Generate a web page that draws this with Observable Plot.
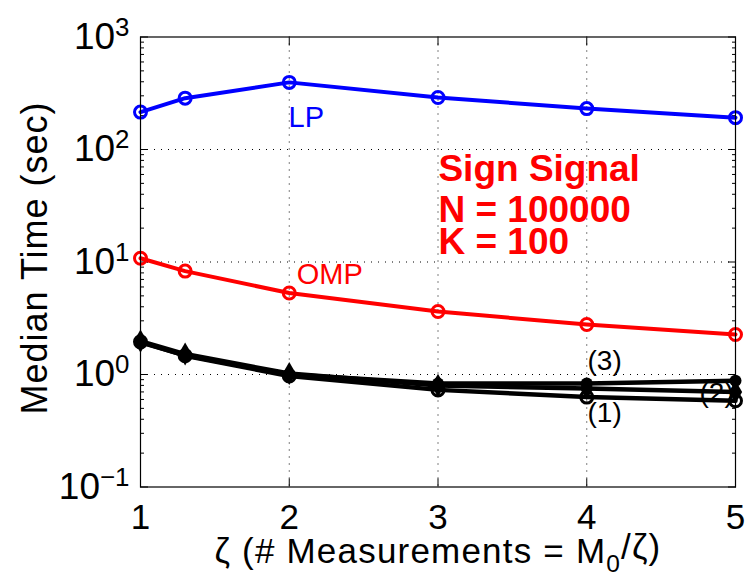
<!DOCTYPE html>
<html><head><meta charset="utf-8">
<script src="https://cdn.jsdelivr.net/npm/d3@7"></script>
<script src="https://cdn.jsdelivr.net/npm/@observablehq/plot@0.6"></script>
<style>body{margin:0;background:#fff} svg{display:block}</style>
</head><body><div id="chart"></div>
<script>
const zeta = [1, 1.3, 2, 3, 4, 5];
const lpTime = [215, 286, 395, 290, 231, 192];
const ompTime = [10.8, 8.3, 5.3, 3.63, 2.78, 2.27];
const bp1Time = [1.95, 1.47, 0.97, 0.73, 0.63, 0.585];
const bp2Time = [1.98, 1.52, 1.02, 0.80, 0.75, 0.70];
const bp3Time = [1.93, 1.48, 1.00, 0.83, 0.83, 0.88];
const xTicks = [1, 2, 3, 4, 5];
const yTicks = [0.1, 1, 10, 100, 1000];
const infoLines = ["Sign Signal", "N = 100000", "K = 100"];
const infoY = [52.9, 22.9, 11.9];
const curveLabels = ["LP", "OMP"];
const curveColors = ["#0000ff", "#ff0000"];
const curveLabelX = [1.995, 2.05];
const curveLabelY = [160, 6.44];
const bpLabels = ["(3)", "(1)", "(2)"];
const bpLabelX = [4.005, 4.005, 4.758];
const bpLabelY = [1.107, 0.382, 0.564];

const rows = vals => zeta.map((z, i) => ({z, t: vals[i]}));
const lp = rows(lpTime), omp = rows(ompTime), bp1 = rows(bp1Time), bp2 = rows(bp2Time), bp3 = rows(bp3Time);
const yMinor = [];
for (const d of [0.1, 1, 10, 100]) for (let k = 2; k <= 9; k++) yMinor.push(d * k);
const font = "'Liberation Sans', Arial, Helvetica, sans-serif";
const blank = () => "";

const plot = Plot.plot({
  width: 747, height: 585,
  marginLeft: 140, marginRight: 12, marginTop: 36.5, marginBottom: 98.5,
  style: {fontFamily: font, background: "#fff", color: "#000"},
  x: {domain: [1, 5], label: null},
  y: {type: "log", domain: [0.1, 1000], label: null},
  marks: [
    Plot.ruleX([2, 3, 4], {stroke: "#000", strokeWidth: 1, strokeDasharray: "1,6"}),
    Plot.ruleY([1, 10, 100], {stroke: "#000", strokeWidth: 1, strokeDasharray: "1,6"}),
    Plot.axisY(yTicks, {anchor: "left", tickSize: -8, tickFormat: blank}),
    Plot.axisY(yMinor, {anchor: "left", tickSize: -4, tickFormat: blank}),
    Plot.axisY(yTicks, {anchor: "right", tickSize: -8, tickFormat: blank}),
    Plot.axisY(yMinor, {anchor: "right", tickSize: -4, tickFormat: blank}),
    Plot.axisX(xTicks, {anchor: "bottom", tickSize: -8, tickFormat: blank}),
    Plot.axisX(xTicks, {anchor: "top", tickSize: -8, tickFormat: blank}),
    Plot.axisY(yTicks, {anchor: "left", tickSize: 0, tickPadding: 11, fontSize: 37,
      tickFormat: d => "10|" + String(Math.round(Math.log10(d))).replace("-", "\u2212")}),
    Plot.axisX(xTicks, {anchor: "bottom", tickSize: 0, tickPadding: 17, fontSize: 35, tickFormat: d => String(d)}),
    Plot.line(lp, {x: "z", y: "t", stroke: "#0000ff", strokeWidth: 4}),
    Plot.dot(lp, {x: "z", y: "t", r: 6, stroke: "#0000ff", strokeWidth: 3}),
    Plot.line(omp, {x: "z", y: "t", stroke: "#ff0000", strokeWidth: 4}),
    Plot.dot(omp, {x: "z", y: "t", r: 6, stroke: "#ff0000", strokeWidth: 3}),
    Plot.line(bp1, {x: "z", y: "t", stroke: "#000", strokeWidth: 4.5}),
    Plot.line(bp2, {x: "z", y: "t", stroke: "#000", strokeWidth: 4.5}),
    Plot.line(bp3, {x: "z", y: "t", stroke: "#000", strokeWidth: 4.5}),
    Plot.dot(bp1, {x: "z", y: "t", r: 6, stroke: "#000", strokeWidth: 3}),
    Plot.dot(bp2, {x: "z", y: "t", r: 7, symbol: "diamond", fill: "#000"}),
    Plot.dot(bp3, {x: "z", y: "t", r: 6, fill: "#000"}),
    Plot.text(curveLabels, {x: (d, i) => curveLabelX[i], y: (d, i) => curveLabelY[i], text: d => d,
      fill: (d, i) => curveColors[i], textAnchor: "start", lineAnchor: "bottom", fontSize: 29}),
    Plot.text(infoLines, {x: () => 3.003, y: (d, i) => infoY[i], text: d => d, fill: "#ff0000",
      fontWeight: "bold", textAnchor: "start", lineAnchor: "bottom", fontSize: 37}),
    Plot.text(bpLabels, {x: (d, i) => bpLabelX[i], y: (d, i) => bpLabelY[i], text: d => d, fill: "#000",
      textAnchor: "start", lineAnchor: "bottom", fontSize: 28}),
    Plot.text(["Median Time (sec)"], {frameAnchor: "left", dx: -105, dy: -4, rotate: -90, textAnchor: "middle",
      lineAnchor: "middle", fontSize: 36, fill: "#000"}),
    Plot.text(["\u03B6 (# Measurements = M_0/\u03B6)"], {frameAnchor: "bottom", dy: 76, textAnchor: "middle",
      lineAnchor: "bottom", fontSize: 35, fill: "#000"}),
    Plot.frame({stroke: "#000", strokeWidth: 1.2})
  ]
});

const svg = d3.select(plot);
svg.selectAll("text").each(function () {
  const t = this.textContent;
  const s = d3.select(this);
  if (t.includes("|")) {
    const [b, e] = t.split("|");
    s.text(null);
    s.append("tspan").text(b);
    s.append("tspan").attr("dy", "-0.5em").attr("font-size", "0.7em").text(e);
  } else if (t.includes("M_0")) {
    const [a, b] = t.split("M_0");
    s.text(null).attr("letter-spacing", "1.2px");
    s.append("tspan").text(a + "M");
    s.append("tspan").attr("dy", "0.35em").attr("font-size", "0.7em").text("0");
    s.append("tspan").attr("dy", "-0.35em").text(b);
  } else if (t === "Median Time (sec)") {
    s.attr("letter-spacing", "1px");
  }
});
document.getElementById("chart").appendChild(plot);
</script>
</body></html>
